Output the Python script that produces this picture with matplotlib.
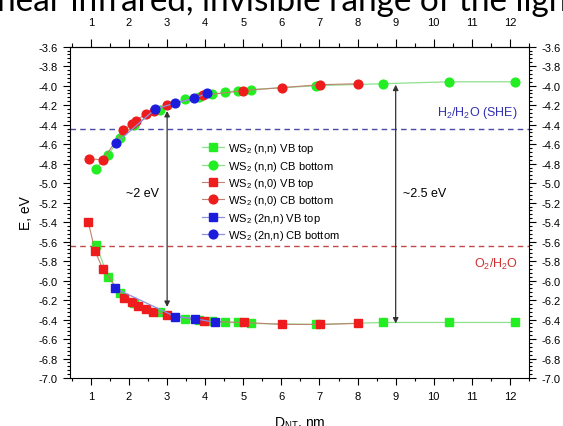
import matplotlib
matplotlib.use("Agg")
import matplotlib.pyplot as plt
from matplotlib.ticker import MultipleLocator, AutoMinorLocator

plt.rcParams['font.family'] = ['Liberation Sans', 'DejaVu Sans']
plt.rcParams['mathtext.fontset'] = 'custom'
plt.rcParams['mathtext.rm'] = 'Liberation Sans'

# WS2 (n,n)
nn_x = [1.13, 1.45, 1.76, 2.12, 2.82, 3.48, 3.83, 4.17, 4.52, 4.87, 5.19, 6.92, 8.66, 10.40, 12.13]
nn_vb = [-5.63, -5.96, -6.13, -6.23, -6.32, -6.39, -6.40, -6.42, -6.43, -6.43, -6.44, -6.45, -6.43, -6.43, -6.43]
nn_cb = [-4.85, -4.71, -4.54, -4.40, -4.25, -4.14, -4.12, -4.09, -4.07, -4.05, -4.04, -4.00, -3.98, -3.96, -3.96]

# WS2 (n,0)
n0_vb_x = [0.93, 1.11, 1.31, 1.87, 2.07, 2.23, 2.44, 2.64, 3.01, 3.98, 5.02, 6.02, 7.02, 8.02]
n0_vb = [-5.40, -5.70, -5.88, -6.18, -6.22, -6.26, -6.29, -6.32, -6.35, -6.42, -6.43, -6.45, -6.45, -6.44]
n0_cb_x = [0.94, 1.31, 1.85, 2.07, 2.18, 2.44, 2.66, 3.01, 3.95, 5.00, 6.02, 7.02, 8.02]
n0_cb = [-4.75, -4.76, -4.46, -4.39, -4.36, -4.29, -4.26, -4.20, -4.10, -4.05, -4.02, -3.99, -3.98]

# WS2 (2n,n)
n2_vb_x = [1.64, 3.21, 3.72, 4.26]
n2_vb = [-6.08, -6.37, -6.39, -6.43]
n2_cb_x = [1.66, 2.69, 3.20, 3.71, 4.04]
n2_cb = [-4.59, -4.24, -4.18, -4.13, -4.08]

h2_level = -4.44
o2_level = -5.65

fig = plt.figure(figsize=(5.63, 4.27), dpi=100)
ax = fig.add_axes([0.1243, 0.1124, 0.8153, 0.7759])

ms = 6.3
ax.plot(nn_x, nn_vb, '-s', color='#8fe08f', mfc='#22ee22', mec='#22ee22', ms=ms, lw=0.9,
        label='WS$_2$ (n,n) VB top')
ax.plot(nn_x, nn_cb, '-o', color='#8fe08f', mfc='#22ee22', mec='#22ee22', ms=ms, lw=0.9,
        label='WS$_2$ (n,n) CB bottom')
ax.plot(n0_vb_x, n0_vb, '-s', color='#c08070', mfc='#ee1c1c', mec='#ee1c1c', ms=ms, lw=0.8,
        label='WS$_2$ (n,0) VB top')
ax.plot(n0_cb_x, n0_cb, '-o', color='#c08070', mfc='#ee1c1c', mec='#ee1c1c', ms=ms, lw=0.8,
        label='WS$_2$ (n,0) CB bottom')
ax.plot(n2_vb_x, n2_vb, '-s', color='#9090e0', mfc='#1c1cdd', mec='#1c1cdd', ms=ms, lw=0.9,
        label='WS$_2$ (2n,n) VB top')
ax.plot(n2_cb_x, n2_cb, '-o', color='#9090e0', mfc='#1c1cdd', mec='#1c1cdd', ms=ms, lw=0.9,
        label='WS$_2$ (2n,n) CB bottom')

ax.axhline(h2_level, color='#4a4aa8', ls=(0, (4, 3)), lw=1.0, zorder=0)
ax.axhline(o2_level, color='#c04848', ls=(0, (4, 3)), lw=1.0, zorder=0)
ax.text(12.2, -4.27, 'H$_2$/H$_2$O (SHE)', color='#3030b0', fontsize=9, ha='right', va='center')
ax.text(12.2, -5.82, 'O$_2$/H$_2$O', color='#d03030', fontsize=9, ha='right', va='center')

arrow = dict(arrowstyle='<|-|>', color='#333333', lw=0.9, mutation_scale=8, shrinkA=0, shrinkB=0)
ax.annotate('', xy=(3.0, -6.27), xytext=(3.0, -4.26), arrowprops=arrow)
ax.annotate('', xy=(9.0, -6.44), xytext=(9.0, -3.99), arrowprops=arrow)
ax.text(2.8, -5.1, '~2 eV', fontsize=9, ha='right', va='center')
ax.text(9.2, -5.1, '~2.5 eV', fontsize=9, ha='left', va='center')

ax.set_xlim(0.45, 12.5)
ax.set_ylim(-7.0, -3.6)
ax.xaxis.set_major_locator(MultipleLocator(1))
ax.xaxis.set_minor_locator(MultipleLocator(0.5))
ax.yaxis.set_major_locator(MultipleLocator(0.2))
ax.yaxis.set_minor_locator(AutoMinorLocator(5))
ax.tick_params(which='both', direction='out', top=False, right=True,
               labeltop=False, labelright=True, labelsize=8, width=0.8)
ax.tick_params(which='major', length=5, pad=4)
ax.tick_params(which='minor', length=2.5)
ax.yaxis.set_major_formatter(plt.FuncFormatter(lambda v, p: '%.1f' % v))

# top axis with a bit more room between ticks and labels
top = ax.secondary_xaxis('top')
top.xaxis.set_major_locator(MultipleLocator(1))
top.xaxis.set_minor_locator(MultipleLocator(0.5))
top.tick_params(which='both', direction='out', labelsize=8, width=0.8)
top.tick_params(which='major', length=6, pad=8)
top.tick_params(which='minor', length=3)

ax.set_xlabel('D$_{\\mathregular{NT}}$, nm', fontsize=10, labelpad=10)
ax.set_ylabel('E, eV', fontsize=10, labelpad=4)

ax.legend(loc='upper left', bbox_to_anchor=(0.265, 0.745), frameon=False, fontsize=8,
          handlelength=2.0, labelspacing=0.3, handletextpad=0.4)

fig.text(-0.005, 0.974, 'near infrared, invisible range of the light', fontsize=24,
         family=['Lato', 'DejaVu Sans'], ha='left', va='baseline')

fig.savefig('out.png', dpi=100)
